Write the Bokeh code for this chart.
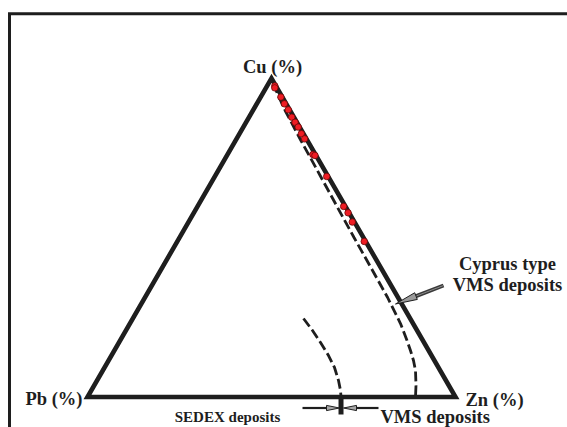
import math
from bokeh.plotting import figure
from bokeh.models import Range1d
from bokeh.core.properties import value
from bokeh.embed import file_html
from bokeh.resources import INLINE

# ---------------- data (ternary percentages) ----------------
# sample points (Cu %, Pb %) ; Zn = 100 - Cu - Pb
sample_cu = [97.6, 97.0, 94.1, 92.0, 90.1, 87.8, 86.2, 84.7, 82.6, 81.0,
             76.1, 75.8, 69.2, 59.8, 57.8, 54.9, 48.8]
sample_pb = [0.3, 0.6, 0.4, 0.5, 0.4, 0.6, 0.5, 0.4, 0.6, 0.5,
             0.7, 0.3, 0.4, 0.5, 0.3, 0.6, 0.4]
sample_zn = [round(100 - c - b, 1) for c, b in zip(sample_cu, sample_pb)]

# Cyprus-type / VMS boundary (dashed, near Cu-Zn side)
cyprus_cu = [98.37, 95.23, 89.90, 80.48, 69.50, 59.46, 50.05, 40.63, 31.22,
             23.06, 17.73, 14.59, 11.45, 8.32, 3.61, 0.0]
cyprus_zn = [1.39, 3.96, 8.75, 17.75, 28.46, 38.23, 47.40, 56.69, 65.94,
             73.52, 77.96, 80.47, 82.86, 84.97, 87.46, 89.13]

# SEDEX / VMS boundary (dashed, lower part)
sedex_cu = [24.63, 20.87, 17.10, 13.02, 9.26, 5.18, 2.04, 0.0]
sedex_zn = [46.38, 50.71, 54.77, 58.98, 62.49, 65.62, 67.73, 68.89]

vertex_labels = ["Cu (%)", "Pb (%)", "Zn (%)"]
field_labels = ["SEDEX deposits", "VMS deposits", "Cyprus type", "VMS deposits"]

# ---------------- geometry helpers ----------------
S3 = math.sqrt(3) / 2
SCALE = 368.0          # pixels per unit side
PX0, PY0 = 87.0, 396.5 # pixel position of the Pb corner


def tern(cu, zn):
    """ternary (Cu, Zn in %) -> cartesian unit-triangle coords"""
    c = cu / 100.0
    z = zn / 100.0
    return z + c / 2.0, c * S3


def pix(x, y):
    """page pixel -> data coords (for annotations only)"""
    return (x - PX0) / SCALE, (PY0 - y) / SCALE


def xy_list(cus, zns):
    pts = [tern(c, z) for c, z in zip(cus, zns)]
    return [a for a, _ in pts], [b for _, b in pts]


W, H = 567, 427
x0, y1 = pix(0, 0)
x1, y0 = pix(W, H)

p = figure(width=W, height=H, x_range=Range1d(x0, x1), y_range=Range1d(y0, y1),
           output_backend="svg", toolbar_location=None, min_border=0,
           x_axis_type=None, y_axis_type=None)
p.grid.visible = False
p.outline_line_color = None
p.background_fill_color = "white"
p.border_fill_color = "white"

INK = "#1e1e1e"

# frame (top and left edges visible)
fx, fy = zip(*[pix(9, 427), pix(9, 13.3), pix(567, 13.3)])
p.line(list(fx), list(fy), line_color=INK, line_width=3, line_join="miter")

# triangle
tx, ty = xy_list([0, 0, 100], [0, 100, 0])
p.patch(tx, ty, fill_color=None, line_color=INK, line_width=4.6, line_join="miter")

# dashed boundaries
cx, cy = xy_list(cyprus_cu, cyprus_zn)
p.line(cx, cy, line_color=INK, line_width=2.8, line_dash="10 4")
sx, sy = xy_list(sedex_cu, sedex_zn)
p.line(sx, sy, line_color=INK, line_width=2.8, line_dash="10 4")

# boundary tick on the Pb-Zn base
bx, _ = tern(0, sedex_zn[-1])
tk0 = pix(0, 397)[1]
tk1 = pix(0, 414)[1]
p.line([bx, bx], [tk0, tk1], line_color=INK, line_width=5)

# samples
px_, py_ = xy_list(sample_cu, sample_zn)
p.scatter(px_, py_, size=6.5, fill_color="#ee1c24", line_color="#6a0606", line_width=0.8)


# arrows (shaft + slender head)
def arrow(tail, tip, head_len, half_w, shaft_w, shaft_col, head_fill):
    (ax, ay), (bx_, by_) = tail, tip
    dx, dy = bx_ - ax, by_ - ay
    L = math.hypot(dx, dy)
    ux, uy = dx / L, dy / L
    nx, ny = -uy, ux
    hb = (bx_ - ux * head_len, by_ - uy * head_len)
    s0 = pix(ax, ay)
    s1 = pix(hb[0] + ux * 2, hb[1] + uy * 2)
    p.line([s0[0], s1[0]], [s0[1], s1[1]], line_color=shaft_col, line_width=shaft_w)
    pts = [pix(bx_, by_), pix(hb[0] + nx * half_w, hb[1] + ny * half_w),
           pix(hb[0] - nx * half_w, hb[1] - ny * half_w)]
    p.patch([q[0] for q in pts], [q[1] for q in pts], fill_color=head_fill,
            line_color=INK, line_width=1)


arrow((302, 407.5), (339, 407.5), 13, 2.6, 2.2, INK, "#a8a8a8")
arrow((378, 407.5), (343, 407.5), 13, 2.6, 2.2, INK, "#a8a8a8")
arrow((443, 285), (395, 303.5), 22, 3.6, 4, "#3a3a3a", "#9a9a9a")
# light core of the thick shaft
c0 = pix(443, 285)
c1 = pix(416, 295.4)
p.line([c0[0], c1[0]], [c0[1], c1[1]], line_color="#8c8c8c", line_width=1)

# ---------------- labels ----------------
FONT = value("Liberation Serif")


def label(txt, xpx, ypx, size, align):
    x, y = pix(xpx, ypx)
    p.text([x], [y], text=[txt], text_font=FONT, text_font_style="bold",
           text_font_size=value(size), text_color=INK, text_align=align,
           text_baseline="alphabetic")


label(vertex_labels[0], 272, 66, "18.5px", "center")
label(vertex_labels[1], 82, 398, "18.5px", "right")
label(vertex_labels[2], 465, 399, "18.5px", "left")
label(field_labels[0], 227, 416, "15px", "center")
label(field_labels[1], 380, 416, "18.5px", "left")
label(field_labels[2], 507, 263, "18.5px", "center")
label(field_labels[3], 507, 284, "18.5px", "center")

open("out.html", "w").write(file_html(p, INLINE))
